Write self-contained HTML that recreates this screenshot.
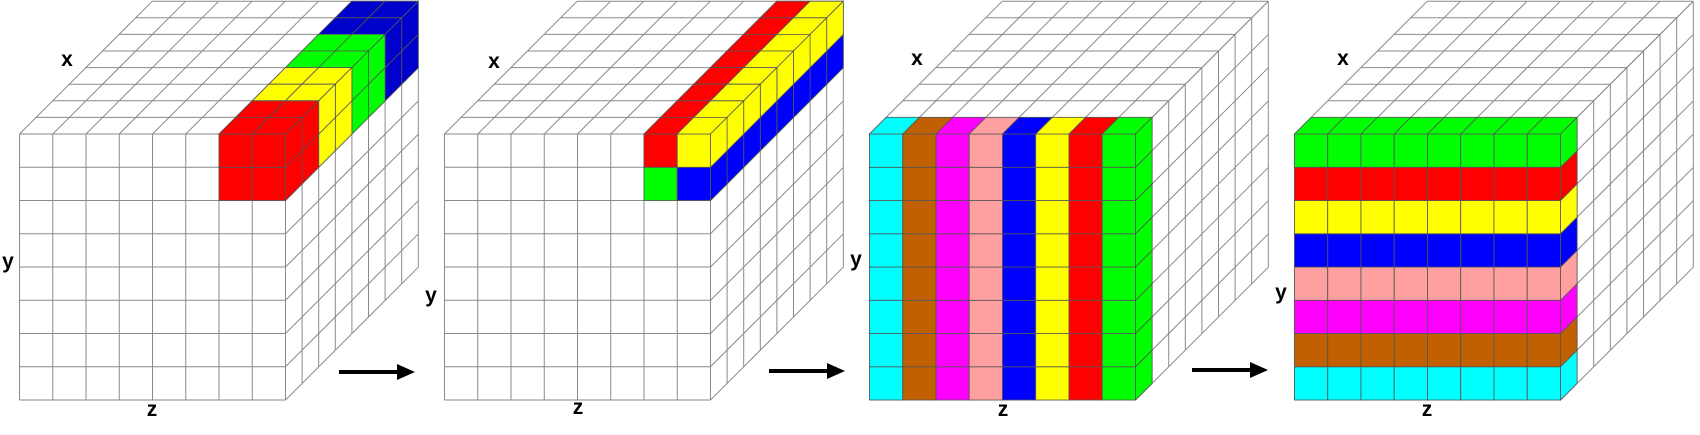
<!DOCTYPE html>
<html><head><meta charset="utf-8"><style>
html,body{margin:0;padding:0;background:#fff;}
svg{display:block;}
text{font-family:"Liberation Sans",sans-serif;font-weight:bold;font-size:21px;fill:#000;}
</style></head><body>
<svg id="fig" width="1700" height="435" viewBox="0 0 1700 435" xmlns="http://www.w3.org/2000/svg"></svg>
<script>
// Each block: [col, row, depthStart, depthEnd(exclusive), color]
const cube1Blocks = [[6,0,0,2,'#ff0000'],[6,0,2,4,'#ffff00'],[6,0,4,6,'#00ff00'],[6,0,6,8,'#0000cc']];
const cube2Blocks = [[6,0,0,8,'#ff0000'],[7,0,0,8,'#ffff00'],[6,1,0,8,'#00ff00'],[7,1,0,8,'#0000ff']];
const cube3Colors = ['#00ffff','#c06000','#ff00ff','#ffa0a0','#0000ff','#ffff00','#ff0000','#00ff00'];
const cube4Colors = ['#00ff00','#ff0000','#ffff00','#0000ff','#ffa0a0','#ff00ff','#c06000','#00ffff'];
const labelPos = [[[67,66],[8,268],[152,416]],[[494,68],[431,302],[578,414]],[[917,65],[856,266],[1003,416]],[[1343,65],[1281,299],[1427,416]]];

const NS='http://www.w3.org/2000/svg';
const svg=document.getElementById('fig');
const S=33.25, D=16.6, Y0=134, N=8;
function el(tag,attrs,parent){const e=document.createElementNS(NS,tag);for(const k in attrs)e.setAttribute(k,attrs[k]);(parent||svg).appendChild(e);return e;}

function drawCube(k, units){
  const ox=19.5+425*k;
  const P=(c,r,z)=>[ox+c*S+z*D, Y0+r*S-z*D];
  const g=el('g',{});
  
  
  const line=(a,b,col,w)=>el('line',{x1:a[0],y1:a[1],x2:b[0],y2:b[1],stroke:col||'#8a8a8a','stroke-width':w||1},g);
  for(let i=0;i<=N;i++){
    line(P(i,0,0),P(i,N,0)); line(P(0,i,0),P(N,i,0));
    line(P(0,0,i),P(N,0,i)); line(P(i,0,0),P(i,0,N));
    line(P(N,i,0),P(N,i,N)); line(P(N,0,i),P(N,N,i));
  }
  // sort: depth desc, row desc, col asc
  units.sort((a,b)=>(b[2]-a[2])||(b[1]-a[1])||(a[0]-b[0]));
  const poly=(pts,fill)=>el('polygon',{points:pts.map(p=>p.join(',')).join(' '),fill:fill,stroke:'#555','stroke-width':0.8,'stroke-linejoin':'round'},g);
  for(const [c,r,z,col] of units){
    const u=el('g',{},g);
    poly([P(c,r,z+1),P(c+1,r,z+1),P(c+1,r,z),P(c,r,z)],col).remove();
    const f=(pts)=>{const p=el('polygon',{points:pts.map(p=>p.join(',')).join(' '),fill:col,stroke:'#555','stroke-width':0.8},u);};
    f([P(c,r,z),P(c+1,r,z),P(c+1,r+1,z),P(c,r+1,z)]);
    f([P(c,r,z),P(c+1,r,z),P(c+1,r,z+1),P(c,r,z+1)]);
    f([P(c+1,r,z),P(c+1,r,z+1),P(c+1,r+1,z+1),P(c+1,r+1,z)]);
    
    
  }
  const names=['x-axis-label','y-axis-label','z-axis-label'];
  ['x','y','z'].forEach((t,i)=>{
    const tx=el('text',{x:labelPos[k][i][0],y:labelPos[k][i][1],'text-anchor':'middle'});
    tx.textContent=t;
    
    
  });
}
function expand(blocks){const u=[];for(const [c,r,z0,z1,col] of blocks){for(let dc=0;dc<2&&blocks===cube1Blocks||dc<1;dc++)for(let dr=0;dr<(blocks===cube1Blocks?2:1);dr++)for(let z=z0;z<z1;z++)u.push([c+dc,r+dr,z,col]);}return u;}
drawCube(0,expand(cube1Blocks));
drawCube(1,expand(cube2Blocks));
const u3=[];cube3Colors.forEach((col,c)=>{for(let r=0;r<8;r++)u3.push([c,r,0,col]);});
drawCube(2,u3);
const u4=[];cube4Colors.forEach((col,r)=>{for(let c=0;c<8;c++)u4.push([c,r,0,col]);});
drawCube(3,u4);
// arrows
[[339,372],[769,371],[1192,370]].forEach(([x,y])=>{
  const a=el('g',{});
  
  
  el('line',{x1:x,y1:y,x2:x+60,y2:y,stroke:'#000','stroke-width':4},a);
  el('polygon',{points:`${x+58},${y-8} ${x+76},${y} ${x+58},${y+8}`,fill:'#000'},a);
});
</script>
</body></html>
